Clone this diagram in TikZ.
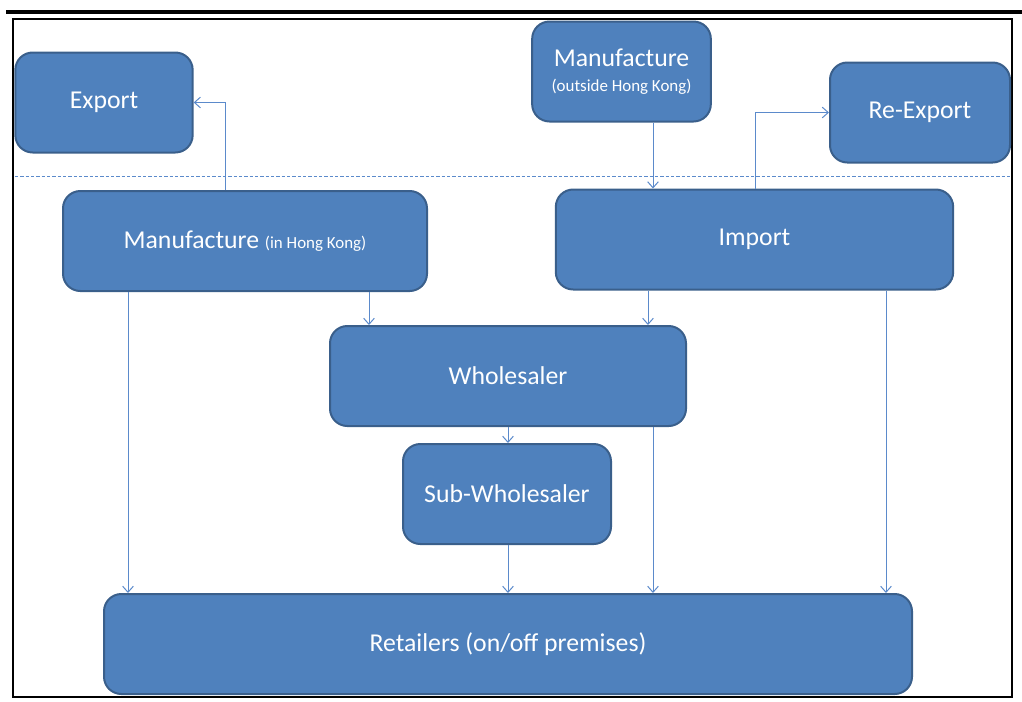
\documentclass[tikz,border=0pt]{standalone}
\usepackage{fontspec}
\setmainfont{Carlito}
\usetikzlibrary{arrows.meta,positioning,calc}
\definecolor{boxblue}{HTML}{4F81BD}
\definecolor{boxedge}{HTML}{3A5F8B}
\definecolor{linkblue}{HTML}{5B8ACB}
\newcommand{\bigtxt}{\fontsize{19.3}{23}\selectfont}
\newcommand{\smalltxt}{\fontsize{12.7}{15}\selectfont}

\begin{document}
\begin{tikzpicture}[
  x=0.75pt, y=-0.75pt,
  box/.style={draw=boxedge, line width=1.5pt, fill=boxblue, rounded corners=13pt,
    text=white, inner sep=0pt, align=center, minimum height=75pt, font=\bigtxt},
  arr/.style={-{Straight Barb[length=4.5pt,width=8pt]}, draw=linkblue, line width=0.75pt},
  sep/.style={draw=linkblue, line width=0.75pt, dash pattern=on 2.5pt off 1.5pt}
]
  \useasboundingbox (0,0) rectangle (1022,701);
  % frame
  \draw[line width=3pt] (6,12) -- (1022,12);
  \draw[line width=1.5pt] (13,19) rectangle (1012,697);
  \draw[sep] (15,176) -- (1010,176);

  % boxes
  \node[box, minimum width=133pt] (exp)   at (104,102.5) {Export};
  \node[box, minimum width=134pt] (mout)  at (621.5,71.5)
    {Manufacture\\[-4pt]{\smalltxt (outside Hong Kong)}};
  \node[box, minimum width=135pt] (reexp) at (920,112.5) {Re-Export};
  \node[box, minimum width=273pt] (mhk)   at (245,241) {Manufacture {\smalltxt(in Hong Kong)}};
  \node[box, minimum width=298pt] (imp)   at (754.5,239.5) {Import};
  \node[box, minimum width=267pt] (whs)   at (508,376) {Wholesaler};
  \node[box, minimum width=156pt] (sub)   at (507,494) {Sub-Wholesaler};
  \node[box, minimum width=606pt] (ret)   at (508,644) {Retailers (on/off premises)};

  % x positions of the links
  \coordinate (xa) at (128,0);
  \coordinate (xb) at (225,0);
  \coordinate (xc) at (369,0);
  \coordinate (xd) at (508,0);
  \coordinate (xe) at (648,0);
  \coordinate (xf) at (653,0);
  \coordinate (xg) at (755,0);
  \coordinate (xh) at (886,0);

  % links
  \draw[arr] (mhk.north -| xb) |- (exp.east);
  \draw[arr] (imp.north -| xg) |- (reexp.west);
  \draw[arr] (mout.south -| xf) -- (imp.north -| xf);
  \draw[arr] (mhk.south -| xc) -- (whs.north -| xc);
  \draw[arr] (imp.south -| xe) -- (whs.north -| xe);
  \draw[arr] (whs.south -| xd) -- (sub.north -| xd);
  \draw[arr] (mhk.south -| xa) -- (ret.north -| xa);
  \draw[arr] (sub.south -| xd) -- (ret.north -| xd);
  \draw[arr] (whs.south -| xf) -- (ret.north -| xf);
  \draw[arr] (imp.south -| xh) -- (ret.north -| xh);
\end{tikzpicture}
\end{document}
